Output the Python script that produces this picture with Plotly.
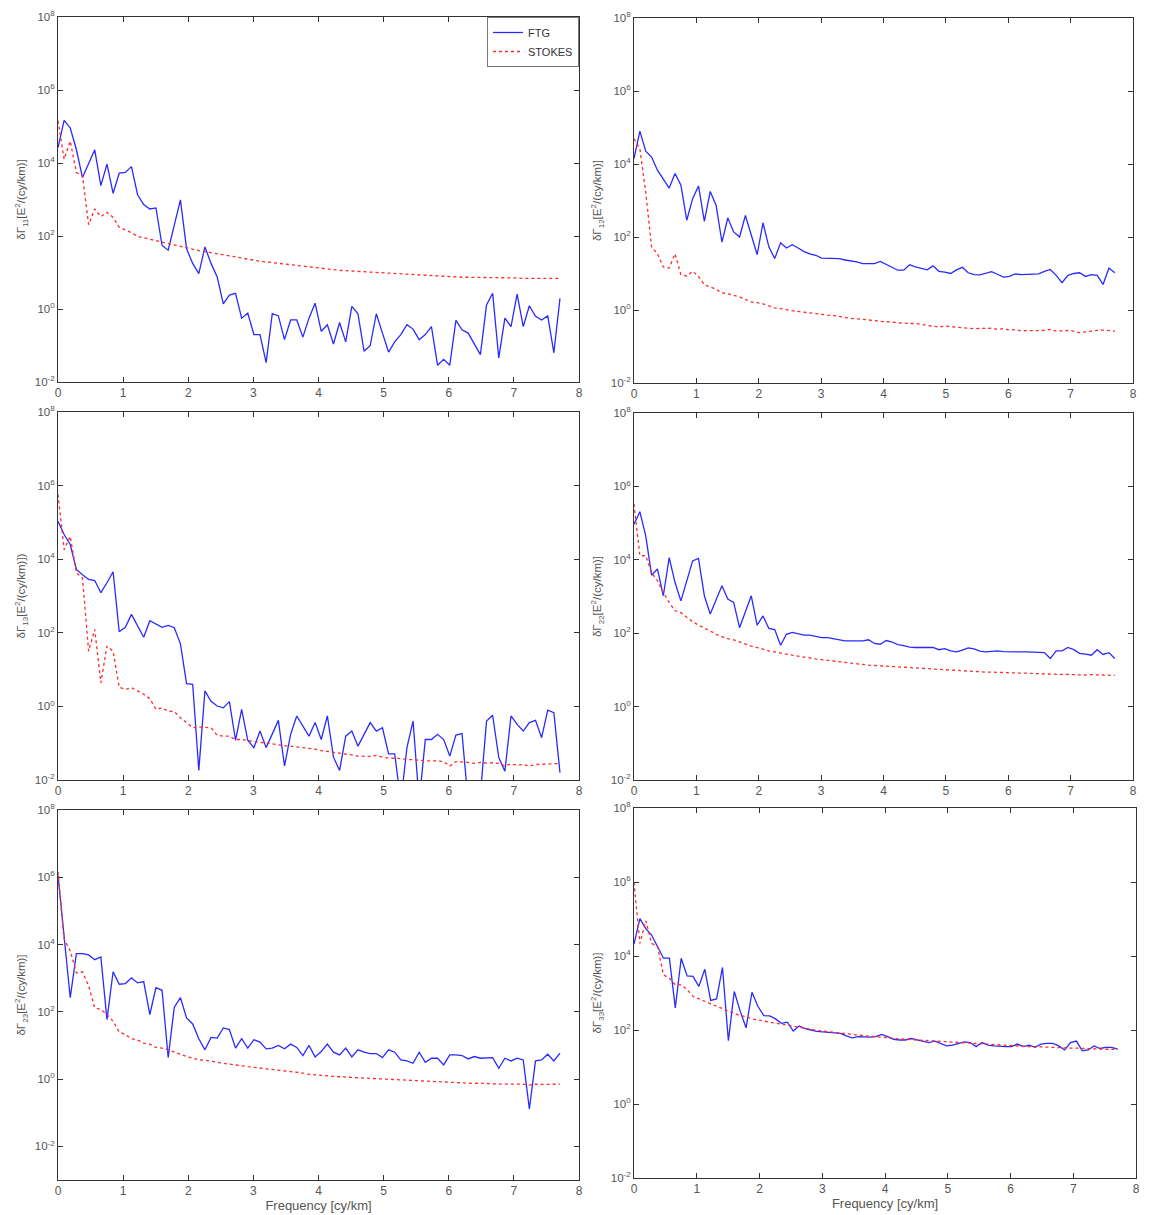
import numpy as np
import plotly.graph_objects as go
from plotly.subplots import make_subplots

# ── Data (frequency grid in cy/km, spectra as log10 of E^2/(cy/km)) ─────────

FREQ = [0.0, 0.094, 0.188, 0.282, 0.376, 0.47, 0.564, 0.658, 0.752, 0.846,
        0.94, 1.034, 1.128, 1.222, 1.316, 1.41, 1.504, 1.598, 1.692, 1.786,
        1.88, 1.974, 2.068, 2.162, 2.256, 2.35, 2.444, 2.538, 2.632, 2.726,
        2.82, 2.914, 3.008, 3.102, 3.196, 3.29, 3.384, 3.478, 3.572, 3.666,
        3.76, 3.854, 3.948, 4.042, 4.136, 4.23, 4.324, 4.418, 4.512, 4.606,
        4.7, 4.794, 4.888, 4.982, 5.076, 5.17, 5.264, 5.358, 5.452, 5.546,
        5.64, 5.734, 5.828, 5.922, 6.016, 6.11, 6.204, 6.298, 6.392, 6.486,
        6.58, 6.674, 6.768, 6.862, 6.956, 7.05, 7.144, 7.238, 7.332, 7.426,
        7.52, 7.614, 7.708]

FTG_11 = [4.42, 5.17, 4.96, 4.37, 3.60, 3.97, 4.36, 3.38, 3.97, 3.17,
          3.72, 3.74, 3.90, 3.13, 2.86, 2.74, 2.77, 1.74, 1.61, 2.30,
          2.99, 1.65, 1.25, 0.97, 1.70, 1.25, 0.88, 0.14, 0.38, 0.43,
          -0.25, -0.11, -0.70, -0.70, -1.47, -0.13, -0.19, -0.84, -0.30, -0.30,
          -0.77, -0.25, 0.16, -0.61, -0.43, -0.96, -0.37, -0.90, 0.07, -0.13,
          -1.16, -1.00, -0.13, -0.66, -1.18, -0.90, -0.70, -0.43, -0.55, -0.84,
          -0.70, -0.48, -1.54, -1.38, -1.54, -0.31, -0.57, -0.66, -0.95, -1.25,
          0.11, 0.43, -1.34, -0.25, -0.48, 0.41, -0.48, 0.09, -0.20, -0.30,
          -0.19, -1.20, 0.29]
STOKES_11 = [5.16, 4.10, 4.60, 3.74, 3.65, 2.31, 2.74, 2.53, 2.65, 2.51,
             2.24, 2.17, 2.09, 1.99, 1.95, 1.90, 1.86, 1.82, 1.78, 1.74,
             1.70, 1.66, 1.63, 1.60, 1.57, 1.54, 1.51, 1.47, 1.44, 1.41,
             1.39, 1.36, 1.33, 1.31, 1.29, 1.27, 1.25, 1.23, 1.20, 1.18,
             1.16, 1.14, 1.12, 1.11, 1.09, 1.08, 1.06, 1.05, 1.04, 1.02,
             1.01, 1.00, 0.99, 0.98, 0.97, 0.96, 0.95, 0.94, 0.93, 0.92,
             0.91, 0.90, 0.89, 0.89, 0.88, 0.88, 0.87, 0.87, 0.87, 0.86,
             0.86, 0.86, 0.85, 0.85, 0.85, 0.85, 0.84, 0.84, 0.84, 0.84,
             0.84, 0.84, 0.84]

FTG_12 = [4.15, 4.90, 4.35, 4.19, 3.83, 3.60, 3.34, 3.74, 3.42, 2.46,
          3.05, 3.40, 2.43, 3.25, 2.87, 1.86, 2.52, 2.14, 2.00, 2.59,
          2.05, 1.52, 2.39, 1.73, 1.41, 1.84, 1.70, 1.79, 1.70, 1.60,
          1.54, 1.50, 1.42, 1.42, 1.42, 1.41, 1.37, 1.35, 1.32, 1.27,
          1.27, 1.27, 1.33, 1.25, 1.19, 1.09, 1.09, 1.24, 1.18, 1.14,
          1.10, 1.21, 1.06, 1.04, 1.00, 1.10, 1.17, 1.02, 0.97, 0.96,
          1.00, 1.05, 0.98, 0.90, 0.92, 0.99, 0.97, 0.97, 0.97, 0.99,
          1.06, 1.11, 0.95, 0.75, 0.95, 1.00, 1.02, 0.92, 0.97, 0.95,
          0.70, 1.15, 1.02]
STOKES_12 = [4.69, 4.42, 3.23, 1.73, 1.54, 1.18, 1.15, 1.54, 0.97, 0.93,
             1.06, 0.92, 0.69, 0.63, 0.57, 0.47, 0.45, 0.40, 0.36, 0.29,
             0.22, 0.20, 0.17, 0.11, 0.06, 0.04, 0.00, -0.02, -0.04, -0.06,
             -0.08, -0.12, -0.14, -0.14, -0.15, -0.18, -0.21, -0.23, -0.24, -0.25,
             -0.27, -0.29, -0.31, -0.31, -0.33, -0.35, -0.37, -0.37, -0.37, -0.40,
             -0.43, -0.46, -0.47, -0.44, -0.46, -0.47, -0.48, -0.50, -0.51, -0.51,
             -0.50, -0.50, -0.53, -0.51, -0.55, -0.54, -0.57, -0.57, -0.55, -0.56,
             -0.56, -0.53, -0.58, -0.57, -0.56, -0.58, -0.62, -0.60, -0.57, -0.56,
             -0.55, -0.57, -0.58]

FTG_13 = [5.03, 4.67, 4.40, 3.72, 3.58, 3.45, 3.42, 3.09, 3.36, 3.66,
          2.03, 2.15, 2.50, 2.18, 1.88, 2.33, 2.23, 2.15, 2.20, 2.14,
          1.70, 0.62, 0.60, -1.74, 0.42, 0.14, 0.01, -0.04, 0.13, -0.92,
          -0.08, -0.92, -1.12, -0.67, -1.12, -0.76, -0.38, -1.62, -0.76, -0.26,
          -0.53, -0.81, -0.44, -0.90, -0.26, -1.38, -1.74, -0.81, -0.67, -1.08,
          -0.76, -0.44, -0.67, -0.58, -1.29, -1.29, -2.60, -1.12, -0.40, -2.60,
          -0.90, -0.90, -0.76, -0.90, -1.35, -0.78, -0.74, -2.60, -2.60, -2.40,
          -0.40, -0.24, -1.39, -1.76, -0.26, -0.49, -0.67, -0.44, -0.38, -0.85,
          -0.10, -0.17, -1.80]
STOKES_13 = [5.76, 4.26, 4.62, 3.63, 3.49, 1.50, 2.09, 0.64, 1.64, 1.50,
             0.52, 0.46, 0.51, 0.42, 0.33, 0.21, -0.08, -0.04, -0.13, -0.14,
             -0.31, -0.44, -0.58, -0.56, -0.56, -0.58, -0.78, -0.81, -0.81, -0.90,
             -0.90, -0.93, -0.96, -0.98, -0.99, -1.02, -1.05, -1.07, -1.08, -1.10,
             -1.12, -1.12, -1.16, -1.20, -1.22, -1.25, -1.28, -1.28, -1.32, -1.35,
             -1.36, -1.36, -1.33, -1.38, -1.40, -1.40, -1.42, -1.44, -1.44, -1.46,
             -1.48, -1.47, -1.48, -1.50, -1.62, -1.50, -1.50, -1.52, -1.55, -1.52,
             -1.54, -1.53, -1.55, -1.62, -1.56, -1.60, -1.58, -1.62, -1.58, -1.57,
             -1.55, -1.56, -1.55]

FTG_22 = [4.97, 5.31, 4.65, 3.58, 3.75, 3.02, 4.06, 3.38, 2.88, 3.40,
          3.97, 4.04, 3.02, 2.52, 2.90, 3.29, 2.93, 2.84, 2.15, 2.60,
          3.02, 2.22, 2.47, 2.13, 2.10, 1.67, 1.97, 2.02, 1.98, 1.95,
          1.95, 1.91, 1.88, 1.88, 1.85, 1.80, 1.79, 1.79, 1.79, 1.79,
          1.82, 1.72, 1.70, 1.80, 1.76, 1.69, 1.66, 1.62, 1.61, 1.61,
          1.61, 1.61, 1.55, 1.58, 1.52, 1.49, 1.54, 1.60, 1.57, 1.51,
          1.49, 1.51, 1.52, 1.50, 1.49, 1.49, 1.49, 1.49, 1.49, 1.49,
          1.47, 1.31, 1.52, 1.52, 1.61, 1.55, 1.45, 1.43, 1.40, 1.55,
          1.42, 1.47, 1.31]
STOKES_22 = [5.52, 4.11, 4.11, 3.65, 3.43, 3.11, 2.84, 2.61, 2.56, 2.43,
             2.31, 2.22, 2.15, 2.06, 1.97, 1.91, 1.85, 1.82, 1.76, 1.70,
             1.65, 1.61, 1.56, 1.52, 1.49, 1.47, 1.43, 1.40, 1.37, 1.35,
             1.32, 1.30, 1.28, 1.26, 1.24, 1.22, 1.20, 1.18, 1.16, 1.15,
             1.13, 1.12, 1.11, 1.10, 1.08, 1.07, 1.06, 1.05, 1.04, 1.03,
             1.02, 1.01, 1.00, 0.99, 0.99, 0.98, 0.97, 0.96, 0.96, 0.95,
             0.94, 0.94, 0.93, 0.93, 0.92, 0.92, 0.91, 0.91, 0.90, 0.90,
             0.89, 0.89, 0.88, 0.88, 0.87, 0.87, 0.86, 0.86, 0.87, 0.86,
             0.86, 0.85, 0.85]

FTG_23 = [6.06, 4.16, 2.42, 3.73, 3.73, 3.69, 3.55, 3.63, 1.77, 3.19,
          2.82, 2.84, 3.01, 2.86, 2.90, 1.92, 2.72, 2.64, 0.64, 2.14,
          2.42, 1.82, 1.64, 1.20, 0.87, 1.24, 1.22, 1.52, 1.47, 0.92,
          1.20, 0.92, 1.17, 1.10, 0.90, 0.92, 1.00, 0.90, 1.04, 0.94,
          0.70, 1.00, 0.66, 0.82, 1.04, 0.80, 0.72, 0.92, 0.66, 0.87,
          0.80, 0.76, 0.76, 0.64, 0.87, 0.80, 0.57, 0.54, 0.47, 0.80,
          0.50, 0.62, 0.62, 0.42, 0.72, 0.72, 0.70, 0.60, 0.67, 0.62,
          0.62, 0.64, 0.32, 0.62, 0.54, 0.62, 0.57, -0.89, 0.54, 0.57,
          0.74, 0.54, 0.77]
STOKES_23 = [6.16, 4.16, 3.81, 3.16, 3.19, 2.77, 2.12, 2.07, 1.92, 1.72,
             1.40, 1.32, 1.20, 1.16, 1.07, 1.04, 0.94, 0.92, 0.87, 0.80,
             0.75, 0.67, 0.62, 0.57, 0.56, 0.52, 0.50, 0.47, 0.44, 0.42,
             0.39, 0.37, 0.35, 0.33, 0.31, 0.29, 0.27, 0.25, 0.22, 0.20,
             0.18, 0.14, 0.12, 0.11, 0.10, 0.08, 0.07, 0.05, 0.05, 0.04,
             0.03, 0.03, 0.02, 0.01, 0.01, -0.01, -0.02, -0.04, -0.05, -0.05,
             -0.07, -0.08, -0.09, -0.10, -0.10, -0.11, -0.11, -0.12, -0.13, -0.12,
             -0.14, -0.14, -0.15, -0.15, -0.14, -0.16, -0.15, -0.18, -0.15, -0.16,
             -0.15, -0.15, -0.15]

FTG_33 = [4.32, 5.01, 4.74, 4.56, 4.25, 3.94, 3.94, 2.60, 3.94, 3.46,
          3.45, 3.18, 3.64, 2.80, 2.84, 3.69, 1.71, 3.04, 2.51, 2.06,
          3.02, 2.64, 2.39, 2.38, 2.30, 2.18, 2.21, 1.97, 2.11, 2.04,
          2.00, 1.96, 1.95, 1.93, 1.93, 1.91, 1.84, 1.79, 1.82, 1.81,
          1.81, 1.82, 1.88, 1.82, 1.75, 1.73, 1.73, 1.77, 1.73, 1.68,
          1.66, 1.70, 1.64, 1.57, 1.59, 1.64, 1.68, 1.66, 1.55, 1.66,
          1.59, 1.57, 1.55, 1.55, 1.55, 1.62, 1.55, 1.59, 1.53, 1.62,
          1.64, 1.64, 1.57, 1.46, 1.66, 1.70, 1.44, 1.46, 1.57, 1.50,
          1.53, 1.53, 1.48]
STOKES_33 = [5.99, 4.34, 4.95, 4.34, 4.25, 3.49, 3.40, 3.22, 3.22, 3.09,
             2.91, 2.84, 2.78, 2.71, 2.64, 2.57, 2.51, 2.45, 2.39, 2.36,
             2.30, 2.27, 2.24, 2.21, 2.18, 2.15, 2.12, 2.09, 2.06, 2.04,
             2.02, 1.99, 1.97, 1.95, 1.93, 1.91, 1.89, 1.87, 1.86, 1.84,
             1.83, 1.82, 1.80, 1.79, 1.77, 1.76, 1.75, 1.74, 1.72, 1.71,
             1.70, 1.69, 1.68, 1.67, 1.66, 1.65, 1.64, 1.63, 1.62, 1.61,
             1.61, 1.60, 1.59, 1.58, 1.57, 1.57, 1.56, 1.55, 1.55, 1.54,
             1.53, 1.53, 1.52, 1.52, 1.51, 1.51, 1.50, 1.50, 1.49, 1.49,
             1.48, 1.48, 1.48]

Y_TITLES = [
    "δΓ<sub>11</sub>[E<sup>2</sup>/(cy/km)]",
    "δΓ<sub>12</sub>[E<sup>2</sup>/(cy/km)]",
    "δΓ<sub>13</sub>[E<sup>2</sup>/(cy/km)])",
    "δΓ<sub>22</sub>[E<sup>2</sup>/(cy/km)]",
    "δΓ<sub>23</sub>[E<sup>2</sup>/(cy/km)]",
    "δΓ<sub>33</sub>[E<sup>2</sup>/(cy/km)]",
]
Y_TICK_EXP = [-2, 0, 2, 4, 6, 8]
X_TICKS = [0, 1, 2, 3, 4, 5, 6, 7, 8]

SERIES = [(FTG_11, STOKES_11), (FTG_12, STOKES_12), (FTG_13, STOKES_13),
          (FTG_22, STOKES_22), (FTG_23, STOKES_23), (FTG_33, STOKES_33)]

# ── Layout ──────────────────────────────────────────────────────────────────
# Panel boxes in page pixels (x0, x1, y_top, y_bottom); the page body adds an
# 8 px offset, so the figure itself is 8 px smaller and boxes are shifted.

PAD = 8
W, H = 1149 - PAD, 1215 - PAD
BOXES = [(58, 579, 17, 382), (634, 1133, 18, 383),
         (58, 579, 412, 780), (634, 1133, 413, 780),
         (58, 579, 810, 1180), (634, 1136, 808, 1178)]
Y_RANGES = [(-2, 8), (-2, 8), (-2, 8), (-2, 8), (-3, 8), (-2, 8)]

FONT = "Arial, Liberation Sans, sans-serif"
AXIS_COLOR = "#333333"
TEXT_COLOR = "#555555"
BLUE = "#2a2aff"
RED = "#ff2a2a"

fig = make_subplots(rows=3, cols=2)

for k, (ftg, stokes) in enumerate(SERIES):
    row, col = k // 2 + 1, k % 2 + 1
    fig.add_trace(go.Scatter(x=FREQ, y=np.power(10.0, ftg), mode="lines",
                             line=dict(color=BLUE, width=1.3),
                             name="FTG", showlegend=(k == 0)),
                  row=row, col=col)
    fig.add_trace(go.Scatter(x=FREQ, y=np.power(10.0, stokes), mode="lines",
                             line=dict(color=RED, width=1.3, dash="dot"),
                             name="STOKES", showlegend=(k == 0)),
                  row=row, col=col)

    x0, x1, yt, yb = [v - PAD for v in BOXES[k]]
    fig.update_xaxes(
        domain=[x0 / W, x1 / W], range=[0, 8], tickvals=X_TICKS,
        ticks="inside", ticklen=5, tickcolor=AXIS_COLOR,
        showline=True, linecolor=AXIS_COLOR, linewidth=1, mirror="ticks",
        showgrid=False, zeroline=False, automargin=False,
        ticklabeloverflow="allow",
        tickfont=dict(family=FONT, size=12, color=TEXT_COLOR),
        title=dict(text="Frequency [cy/km]" if row == 3 else "",
                   font=dict(family=FONT, size=13, color=TEXT_COLOR),
                   standoff=0),
        row=row, col=col,
    )
    fig.update_yaxes(
        domain=[1 - yb / H, 1 - yt / H], type="log", range=list(Y_RANGES[k]),
        tickvals=[10.0 ** e for e in Y_TICK_EXP],
        ticktext=[f"10<sup>{e}</sup>" for e in Y_TICK_EXP],
        ticks="inside", ticklen=5, tickcolor=AXIS_COLOR,
        showline=True, linecolor=AXIS_COLOR, linewidth=1, mirror="ticks",
        showgrid=False, zeroline=False, automargin=False,
        ticklabeloverflow="allow",
        tickfont=dict(family=FONT, size=11.5, color=TEXT_COLOR),
        title=dict(text=Y_TITLES[k],
                   font=dict(family=FONT, size=11.5, color=TEXT_COLOR),
                   standoff=6),
        row=row, col=col,
    )

fig.update_layout(
    width=W, height=H,
    margin=dict(l=0, r=0, t=0, b=0, autoexpand=False),
    paper_bgcolor="white", plot_bgcolor="white",
    font=dict(family=FONT, color=TEXT_COLOR),
    legend=dict(x=(579 - PAD) / W, y=1 - (17 - PAD) / H,
                xanchor="right", yanchor="top",
                bgcolor="white", bordercolor="#777777", borderwidth=1,
                font=dict(family=FONT, size=11, color="#333333"),
                tracegroupgap=0, itemwidth=30),
    hovermode=False,
)

fig.write_html("out.html")
